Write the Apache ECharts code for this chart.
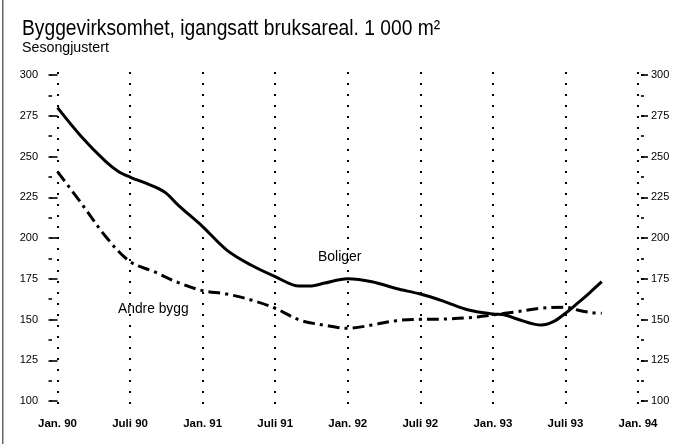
<!DOCTYPE html>
<html>
<head>
<meta charset="utf-8">
<script src="https://cdn.jsdelivr.net/npm/echarts@6/dist/echarts.min.js"></script>
<style>
html,body{margin:0;padding:0;background:#fff;}
#c{width:679px;height:444px;}
</style>
</head>
<body>
<div id="c"></div>
<script>
// Months after Jan. 1990
var months = [0, 2, 4, 5, 6, 8, 9, 10, 12, 14, 16, 18, 20, 21, 22, 24, 26, 28, 30, 32, 34, 36, 37, 38, 40, 41, 42, 43, 44, 45];
var boliger = [280, 262, 246.8, 241, 237.4, 231.5, 227.4, 220, 207, 192.6, 183.4, 176.3, 170.5, 170.6, 172.2, 175, 173.2, 169, 165.6, 161, 155.8, 153.4, 152.8, 150.3, 146.6, 148.7, 153.8, 160, 166.4, 173.2];
var andreMonths = [0, 2, 4, 6, 8, 10, 12, 14, 16, 18, 20, 22, 24, 26, 28, 30, 32, 34, 36, 38, 40, 42, 43, 44, 45];
var andre = [240.7, 221, 200.8, 185.5, 179.3, 172.6, 167.7, 165.6, 162, 156.9, 149.7, 146.6, 144.6, 146.6, 149.3, 150.1, 150.3, 151.1, 152.8, 154.8, 156.9, 157.5, 155.8, 154.4, 153.8];
var xTickLabels = ['Jan. 90', 'Juli 90', 'Jan. 91', 'Juli 91', 'Jan. 92', 'Juli 92', 'Jan. 93', 'Juli 93', 'Jan. 94'];
var yMin = 100, yMax = 300, yMajor = 25, yMinor = 12.5;

var NF = '"Liberation Sans", Arial, sans-serif';

function pairs(xs, ys) { return xs.map(function (x, i) { return [x, ys[i]]; }); }

var chart = echarts.init(document.getElementById('c'), null, {renderer: 'canvas'});
var L = 57.5, R = 41;
var tickStyle = {color: '#000', width: 1.6};
var option = {
  animation: false,
  backgroundColor: '#fff',
  grid: [
    {left: L, right: R, top: 75, bottom: 43},
    {left: L, right: R, top: 72, bottom: 32}
  ],
  xAxis: [
    {gridIndex: 0, type: 'value', min: 0, max: 48, interval: 6, show: false},
    {gridIndex: 1, type: 'value', min: 0, max: 48, interval: 6,
      axisLine: {show: false}, axisTick: {show: false},
      splitLine: {show: true, lineStyle: {color: '#000', width: 2, type: [2, 9]}},
      axisLabel: {margin: 6, color: '#000', fontFamily: NF, fontWeight: 'bold', fontSize: 11.5,
        formatter: function (v) { return xTickLabels[Math.round(v / 6)]; }}
    }
  ],
  yAxis: [
    {gridIndex: 0, type: 'value', min: yMin, max: yMax, interval: yMajor, position: 'left', offset: 3.5,
      axisLine: {show: false}, splitLine: {show: false},
      axisTick: {show: true, length: 7, lineStyle: tickStyle},
      axisLabel: {margin: 16, color: '#000', fontFamily: NF, fontSize: 11}},
    {gridIndex: 0, type: 'value', min: yMin, max: yMax, interval: yMinor, position: 'left', offset: 5.5,
      axisLine: {show: false}, splitLine: {show: false},
      axisTick: {show: true, length: 3.5, lineStyle: tickStyle}, axisLabel: {show: false}},
    {gridIndex: 0, type: 'value', min: yMin, max: yMax, interval: yMajor, position: 'right', offset: 3,
      axisLine: {show: false}, splitLine: {show: false},
      axisTick: {show: true, length: 7, lineStyle: tickStyle},
      axisLabel: {margin: 10, color: '#000', fontFamily: NF, fontSize: 11}},
    {gridIndex: 0, type: 'value', min: yMin, max: yMax, interval: yMinor, position: 'right', offset: 3,
      axisLine: {show: false}, splitLine: {show: false},
      axisTick: {show: true, length: 3, lineStyle: tickStyle}, axisLabel: {show: false}},
    {gridIndex: 1, type: 'value', min: 0, max: 1, show: false}
  ],
  series: [
    {name: 'Boliger', type: 'line', xAxisIndex: 0, yAxisIndex: 0, data: pairs(months, boliger),
      smooth: 0.35, showSymbol: false, lineStyle: {color: '#000', width: 3}, z: 5},
    {name: 'Andre bygg', type: 'line', xAxisIndex: 0, yAxisIndex: 0, data: pairs(andreMonths, andre),
      smooth: 0.35, showSymbol: false, lineStyle: {color: '#000', width: 3, type: [12, 5, 3, 5]}, z: 5}
  ],
  graphic: [
    {type: 'rect', shape: {x: 2, y: 0, width: 1.5, height: 444}, style: {fill: '#666'}},
    {type: 'text', x: 22, y: 18, scaleX: 0.895, style: {text: 'Byggevirksomhet, igangsatt bruksareal. 1 000 m²', font: '21.5px ' + NF, fill: '#000'}},
    {type: 'text', x: 22, y: 40, scaleX: 0.98, style: {text: 'Sesongjustert', font: '14.5px ' + NF, fill: '#000'}},
    {type: 'text', x: 318, y: 249, scaleX: 0.93, style: {text: 'Boliger', font: '15px ' + NF, fill: '#000'}},
    {type: 'text', x: 118, y: 301, scaleX: 0.92, style: {text: 'Andre bygg', font: '15px ' + NF, fill: '#000'}}
  ]
};
chart.setOption(option);
</script>
</body>
</html>
